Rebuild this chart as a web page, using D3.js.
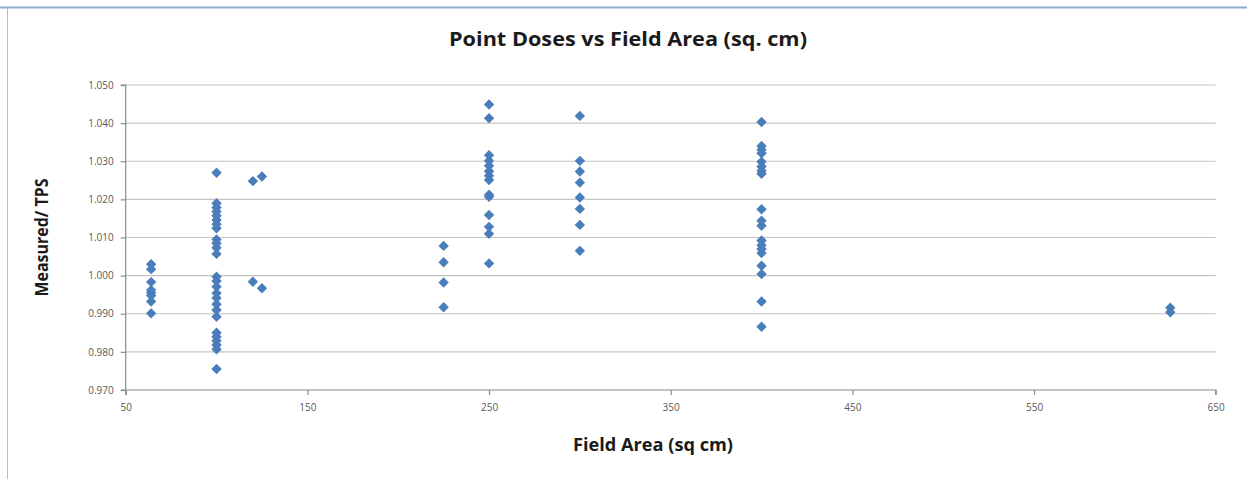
<!DOCTYPE html>
<html>
<head>
<meta charset="utf-8">
<script src="https://cdn.jsdelivr.net/npm/d3@7"></script>
<style>
  body { margin: 0; background: #fff; }
  svg { display: block; font-family: "Open Sans", "Liberation Sans", sans-serif; }
</style>
</head>
<body>
<svg id="chart" width="1247" height="479"></svg>
<script>
// field areas (sq cm) and the measured/TPS ratios read at each
var area64 = [1.0030, 1.0017, 0.9983, 0.9962, 0.9955, 0.9948, 0.9932, 0.9901];
var area100 = [1.0270, 1.0190, 1.0179, 1.0168, 1.0157, 1.0146, 1.0135, 1.0124,
               1.0095, 1.0085, 1.0073, 1.0057,
               0.9997, 0.9986, 0.9971, 0.9954, 0.9941, 0.9925, 0.9910, 0.9892,
               0.9850, 0.9840, 0.9829, 0.9818, 0.9807, 0.9755];
var area120 = [1.0248, 0.9984];
var area125 = [1.0260, 0.9967];
var area225 = [1.0078, 1.0035, 0.9982, 0.9917];
var area250 = [1.0449, 1.0413, 1.0316, 1.0301, 1.0288, 1.0274, 1.0262, 1.0251,
               1.0212, 1.0207, 1.0159, 1.0128, 1.0110, 1.0032];
var area300 = [1.0419, 1.0301, 1.0273, 1.0244, 1.0205, 1.0175, 1.0133, 1.0065];
var area400 = [1.0403, 1.0340, 1.0330, 1.0321, 1.0299, 1.0286, 1.0275, 1.0267,
               1.0174, 1.0144, 1.0131, 1.0092, 1.0080, 1.0070, 1.0059, 1.0026,
               1.0004, 0.9932, 0.9866];
var area625 = [0.9916, 0.9904];

var xTicks = [50, 150, 250, 350, 450, 550, 650];
var yTicks = [0.970, 0.980, 0.990, 1.000, 1.010, 1.020, 1.030, 1.040, 1.050];

var groups = [[64, area64], [100, area100], [120, area120], [125, area125],
              [225, area225], [250, area250], [300, area300], [400, area400],
              [625, area625]];
var data = [];
groups.forEach(function(g) {
    g[1].forEach(function(v) { data.push({area: g[0], ratio: v}); });
});

var svg = d3.select("#chart");

// frame remnants of the source document
svg.append("line").attr("x1", 0).attr("x2", 1247).attr("y1", 7.5).attr("y2", 7.5)
    .attr("stroke", "#8fa9cf").attr("stroke-width", 2);
svg.append("line").attr("x1", 7.5).attr("x2", 7.5).attr("y1", 8).attr("y2", 479)
    .attr("stroke", "#a9bfe0").attr("stroke-width", 1);

var plotLeft = 125.7, plotRight = 1215.7, plotTop = 85, plotBottom = 390;

var xs = d3.scaleLinear().domain([50, 650]).range([plotLeft, plotRight]);
var ys = d3.scaleLinear().domain([0.970, 1.050]).range([plotBottom, plotTop]);

// gridlines
svg.append("g")
    .selectAll("line")
    .data(yTicks.slice(1))
    .enter()
    .append("line")
        .attr("x1", plotLeft).attr("x2", plotRight)
        .attr("y1", function(d) { return ys(d); })
        .attr("y2", function(d) { return ys(d); })
        .attr("stroke", "#c4c4c4")
        .attr("stroke-width", 1.2);

var yAxis = d3.axisLeft(ys).tickValues(yTicks).tickFormat(d3.format(".3f"))
    .tickSize(5).tickPadding(7);
var xAxis = d3.axisBottom(xs).tickValues(xTicks).tickFormat(d3.format("d"))
    .tickSize(5).tickPadding(9);

var yg = svg.append("g").attr("transform", "translate(" + plotLeft + ",0)").call(yAxis);
var xg = svg.append("g").attr("transform", "translate(0," + plotBottom + ")").call(xAxis);

[yg, xg].forEach(function(g) {
    g.select(".domain").attr("stroke", "#8c8c8c").attr("stroke-width", 1.2);
    g.selectAll(".tick line").attr("stroke", "#8c8c8c").attr("stroke-width", 1.2);
    g.selectAll(".tick text").attr("fill", "#595959")
        .style("font-size", "10px").style("font-family", "'Open Sans', sans-serif");
});
yg.select(".domain").attr("d", "M-5," + plotTop + "H0V" + plotBottom + "H-5");
xg.select(".domain").attr("d", "M" + plotLeft + ",5V0H" + plotRight + "V5");

// points
svg.append("g")
    .selectAll("path")
    .data(data)
    .enter()
    .append("path")
        .attr("d", "M0,-5.2L5.2,0L0,5.2L-5.2,0Z")
        .attr("transform", function(d) {
            return "translate(" + xs(d.area) + "," + ys(d.ratio) + ")";
        })
        .attr("fill", "#4a7ebb");

// titles
svg.append("text")
    .attr("x", 628).attr("y", 46)
    .attr("text-anchor", "middle")
    .attr("textLength", 358).attr("lengthAdjust", "spacingAndGlyphs")
    .style("font-weight", "bold").style("font-size", "20px").attr("fill", "#1a1a1a")
    .text("Point Doses vs Field Area (sq. cm)");

svg.append("text")
    .attr("x", 653).attr("y", 451)
    .attr("text-anchor", "middle")
    .attr("textLength", 160).attr("lengthAdjust", "spacingAndGlyphs")
    .style("font-weight", "bold").style("font-size", "17px").attr("fill", "#1a1a1a")
    .text("Field Area (sq cm)");

svg.append("text")
    .attr("transform", "translate(48," + ((plotTop + plotBottom) / 2) + ") rotate(-90)")
    .attr("text-anchor", "middle")
    .attr("textLength", 118).attr("lengthAdjust", "spacingAndGlyphs")
    .style("font-weight", "bold").style("font-size", "17px").attr("fill", "#1a1a1a")
    .text("Measured/ TPS");
</script>
</body>
</html>
